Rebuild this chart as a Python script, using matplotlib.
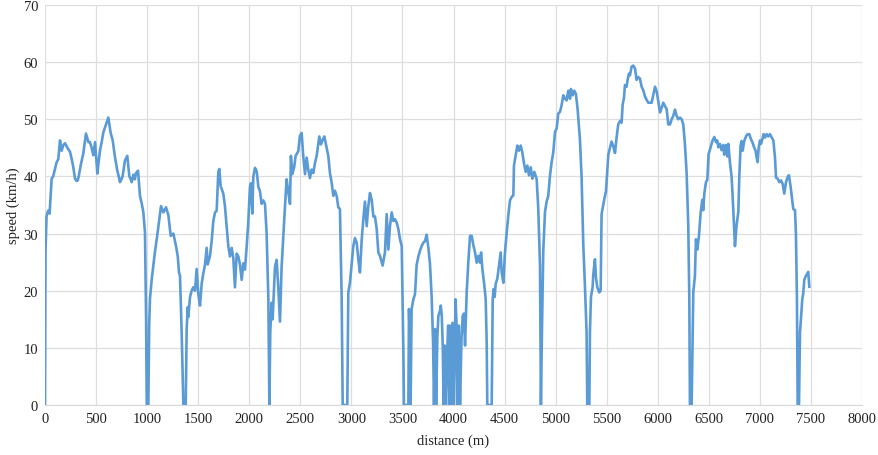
import matplotlib
matplotlib.use("Agg")
import matplotlib.pyplot as plt

distance_m = [
    0, 5, 15, 30, 45, 65, 80, 100, 114, 130, 147, 163, 180, 196, 220, 245, 262, 277, 294, 310,
    320, 330, 350, 375, 401, 425, 440, 457, 473, 490, 513, 525, 539, 555, 571, 588, 605, 620, 643, 663,
    685, 708, 722, 734, 748, 760, 783, 806, 826, 840, 849, 865, 880, 891, 911, 930, 950, 963, 979, 990,
    996, 1012, 1020, 1028, 1045, 1061, 1078, 1094, 1120, 1136, 1159, 1185, 1208, 1231, 1257, 1283, 1300, 1312, 1322, 1338,
    1355, 1378, 1387, 1397, 1403, 1420, 1436, 1452, 1469, 1485, 1501, 1518, 1534, 1550, 1567, 1583, 1593, 1616, 1632, 1648,
    1665, 1681, 1697, 1707, 1720, 1746, 1762, 1779, 1795, 1811, 1828, 1844, 1860, 1877, 1893, 1909, 1926, 1942, 1958, 1975,
    1991, 2007, 2017, 2030, 2040, 2056, 2073, 2089, 2105, 2121, 2138, 2154, 2170, 2187, 2197, 2206, 2219, 2229, 2242, 2252,
    2268, 2284, 2301, 2317, 2333, 2350, 2366, 2382, 2399, 2408, 2421, 2441, 2454, 2480, 2496, 2513, 2529, 2546, 2562, 2578,
    2594, 2611, 2627, 2643, 2660, 2686, 2702, 2719, 2735, 2751, 2774, 2790, 2807, 2823, 2839, 2856, 2872, 2888, 2905, 2915,
    2960, 2970, 2986, 3003, 3019, 3035, 3052, 3068, 3084, 3101, 3117, 3133, 3150, 3166, 3182, 3199, 3215, 3231, 3248, 3264,
    3280, 3306, 3329, 3346, 3362, 3378, 3395, 3411, 3427, 3444, 3460, 3476, 3493, 3509, 3515, 3558, 3564, 3574, 3580, 3590,
    3607, 3623, 3639, 3656, 3672, 3688, 3705, 3721, 3737, 3754, 3770, 3786, 3800, 3809, 3820, 3830, 3842, 3852, 3868, 3875,
    3885, 3895, 3903, 3913, 3925, 3935, 3948, 3958, 3966, 3978, 3990, 4005, 4020, 4030, 4040, 4052, 4064, 4078, 4090, 4102,
    4113, 4129, 4145, 4162, 4178, 4195, 4211, 4227, 4243, 4260, 4270, 4283, 4302, 4315, 4325, 4331, 4374, 4384, 4393, 4403,
    4413, 4429, 4445, 4462, 4472, 4488, 4504, 4521, 4537, 4553, 4570, 4586, 4592, 4609, 4625, 4641, 4658, 4674, 4690, 4707,
    4723, 4739, 4756, 4772, 4791, 4814, 4830, 4847, 4856, 4866, 4879, 4896, 4912, 4928, 4945, 4961, 4977, 4994, 5010, 5026,
    5043, 5059, 5075, 5092, 5108, 5124, 5141, 5150, 5167, 5183, 5199, 5215, 5238, 5254, 5271, 5287, 5303, 5310, 5330, 5336,
    5346, 5362, 5369, 5385, 5395, 5408, 5427, 5441, 5450, 5473, 5493, 5516, 5532, 5548, 5564, 5581, 5597, 5613, 5630, 5646,
    5656, 5669, 5679, 5695, 5705, 5718, 5728, 5744, 5760, 5777, 5793, 5809, 5826, 5842, 5858, 5875, 5891, 5907, 5924, 5940,
    5956, 5973, 5989, 6005, 6022, 6038, 6054, 6071, 6087, 6103, 6120, 6136, 6152, 6169, 6185, 6201, 6218, 6234, 6250, 6266,
    6283, 6299, 6309, 6315, 6332, 6348, 6364, 6374, 6387, 6403, 6420, 6436, 6446, 6456, 6472, 6485, 6498, 6518, 6537, 6554,
    6570, 6583, 6593, 6609, 6625, 6642, 6651, 6668, 6681, 6691, 6707, 6723, 6733, 6746, 6756, 6772, 6789, 6798, 6811, 6821,
    6831, 6847, 6864, 6880, 6896, 6913, 6929, 6945, 6958, 6968, 6978, 6988, 7001, 7011, 7024, 7037, 7050, 7067, 7083, 7099,
    7116, 7132, 7148, 7158, 7174, 7191, 7207, 7223, 7239, 7256, 7272, 7285, 7301, 7317, 7327, 7344, 7353, 7363, 7370, 7383,
    7393, 7402, 7415, 7425, 7435, 7448, 7464, 7474, 7484,
]

speed_kmh = [
    0, 27, 33, 34, 33.5, 39.6, 40, 41.5, 42.5, 43, 46.3, 44.5, 45.5, 45.8, 45, 44.3, 43, 41.6, 39.6, 39.2,
    39.3, 40, 42, 44, 47.5, 46, 46, 45, 43.7, 46, 40.5, 42.5, 44.6, 46, 47.7, 48.6, 49.5, 50.3, 47.6, 46.3,
    43.4, 41, 40, 39, 39.5, 40, 42.8, 43.6, 40, 39.5, 39, 40.3, 39.5, 40.6, 41, 36.6, 35, 33.7, 30.2, 15,
    0, 0, 14, 18.6, 22, 24.4, 27, 29, 32.5, 34.8, 33.7, 34.6, 33.2, 29.6, 30, 27.8, 26, 23.2, 22.6, 12.8,
    0, 0, 13.1, 17.1, 15.4, 18.9, 20, 20.6, 20, 23.8, 19.4, 17.4, 21.2, 23, 24.6, 27.5, 24.6, 26.1, 28.7, 32.2,
    33.7, 34, 40.8, 41.3, 38.3, 37, 34.8, 31.3, 27.8, 26, 27.5, 25.7, 20.6, 26.5, 26, 24.6, 21.9, 24.8, 23.7, 27.8,
    32.2, 38.2, 38.8, 33.5, 40, 41.5, 40.9, 38.2, 37.4, 35.2, 35.8, 35.2, 30.1, 18.6, 0, 12.8, 17.9, 15, 20, 24.2,
    25.4, 20.7, 14.6, 24.2, 29.5, 34.8, 39.5, 37.3, 35.2, 43.6, 40.4, 41.7, 43.6, 44.4, 47.1, 47.6, 43.5, 40.4, 43.3, 41.2,
    39.7, 41.2, 40.6, 42.3, 43.6, 47, 45.6, 46.4, 47, 45.6, 43.6, 40.6, 38.9, 36.6, 37.5, 36.6, 34.6, 34.3, 18.6, 0,
    0, 19.7, 21.4, 24.8, 27.8, 29.2, 28.4, 25.5, 23.2, 28.9, 32.5, 35.6, 31.3, 34.8, 37.1, 35.9, 33, 33, 30.8, 26.7,
    26.1, 24.4, 26.7, 33.4, 27.2, 31.3, 33.7, 32.2, 32.5, 31.9, 30.8, 29, 27.8, 9.7, 0, 0, 16.8, 10, 0, 16.8,
    18.5, 19.4, 24.5, 26, 27, 27.8, 28.4, 28.7, 29.8, 27.5, 24.6, 19, 11, 0, 13.3, 0, 12, 15.6, 16.5, 17.4,
    15.6, 10.4, 0, 10.4, 0, 8, 13.9, 0, 13.9, 0, 14.4, 0, 18.5, 13.9, 0, 13.9, 0, 11.5, 15.6, 16,
    10.4, 19.7, 25, 29.6, 29.6, 27.9, 26.7, 24.9, 26.1, 24.9, 26.7, 23.8, 20.9, 18.6, 11, 0, 0, 18.6, 20.3, 18.9,
    21.2, 22.1, 24.4, 26.7, 23.2, 21.4, 26.7, 30.2, 33.2, 35.8, 36.4, 36.7, 41.9, 43.7, 45.4, 44.5, 45.4, 44.2, 42.3, 40.8,
    41.9, 40.2, 41.6, 39.6, 40.8, 39.6, 34.4, 24.4, 0, 12.8, 26.9, 33.8, 35.6, 36.6, 40.2, 42.5, 44.2, 47.8, 48.4, 51,
    51.3, 52.5, 54.2, 53.6, 53.3, 55, 53.6, 55.3, 54.2, 55, 54.4, 51.8, 46.5, 40, 28, 20.8, 12.8, 0, 0, 12.8,
    18.9, 20.6, 22.9, 25.5, 22.3, 20.6, 19.7, 20, 33.4, 35.7, 37.4, 43.8, 45, 46.1, 45.3, 44.1, 46.8, 49.1, 49.7, 49.4,
    52.5, 53.7, 56, 55.7, 56.9, 58, 57.7, 59.2, 59.4, 58.9, 56.9, 57.4, 57.1, 55.7, 55.1, 54, 53.4, 52.9, 52.9, 52.9,
    54.3, 55.7, 54.9, 53.2, 51.2, 52, 52.9, 52.3, 51.8, 49.1, 49.1, 50, 50.6, 51.7, 50.6, 50, 50.3, 50, 49.1, 45.7,
    40.5, 31.3, 18.6, 0, 0, 19.7, 22.6, 29, 27.2, 29.5, 33.6, 35.9, 34.1, 37, 39, 39.4, 43.9, 45.1, 46.3, 46.9,
    46, 46.3, 45.1, 45.7, 44.6, 45.5, 43.8, 45.5, 43.5, 45.7, 42.4, 40, 36.7, 31.5, 27.8, 31.5, 33.8, 39.6, 45.4, 46.2,
    44.5, 46.2, 47, 47.4, 47.4, 46.5, 45.9, 45, 44.5, 43.3, 42.5, 45, 46.3, 45.7, 46.5, 47.4, 46.8, 47.4, 47, 47.4,
    46.8, 46.3, 43.3, 39.8, 39.6, 39, 39.3, 38.7, 37, 39, 39.9, 40.2, 38.2, 35.8, 34.3, 34.1, 30, 18.5, 0, 0,
    12.8, 15, 18.5, 19.6, 21.9, 22.5, 23, 23.3, 20.7,
]

x_ticks = list(range(0, 8001, 500))
y_ticks = list(range(0, 71, 10))

plt.rcParams['font.family'] = ['Liberation Serif', 'DejaVu Serif']

fig = plt.figure(figsize=(8.79, 4.56), dpi=100)
ax = fig.add_axes([45 / 879, 1 - 406 / 456, (862 - 45) / 879, 400 / 456])

ax.plot(distance_m, speed_kmh, color='#5B9BD5', linewidth=1.9, solid_joinstyle='round')

ax.set_xlim(0, 8000)
ax.set_ylim(0, 70)
ax.set_xticks(x_ticks)
ax.set_yticks(y_ticks)
ax.grid(True, color='#DEDEDE', linewidth=0.9)
ax.set_axisbelow(True)
for side in ['top', 'right', 'left']:
    ax.spines[side].set_visible(False)
ax.spines['bottom'].set_color('#D9D9D9')
ax.tick_params(axis='both', length=0, labelsize=10.5, colors='#222222', pad=5)
ax.set_xlabel('distance (m)', fontsize=10.5, color='#222222', labelpad=6)
ax.set_ylabel('speed (km/h)', fontsize=10.5, color='#222222')
ax.yaxis.set_label_coords(-0.031, 0.5)

fig.savefig('out.png', dpi=100)
